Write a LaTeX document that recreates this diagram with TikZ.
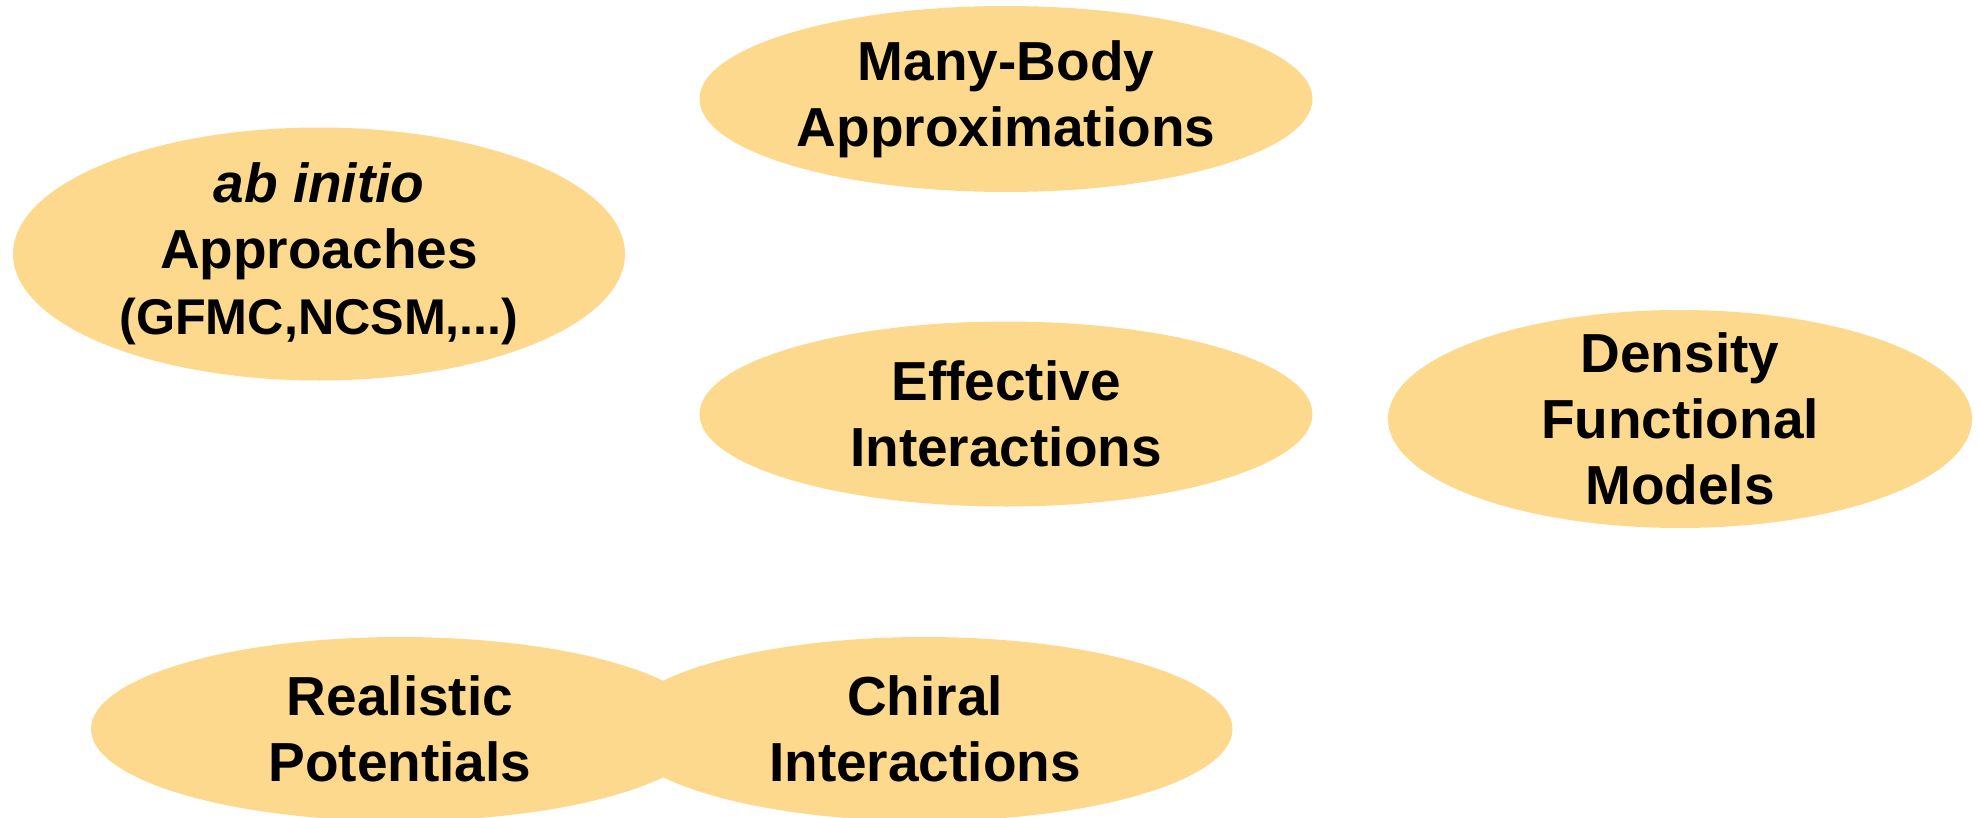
\documentclass[tikz,border=0pt]{standalone}
\usepackage{fontspec}
\setmainfont{Liberation Sans}
\definecolor{blobfill}{HTML}{FDD98E}

\begin{document}
\begin{tikzpicture}[x=0.02cm,y=-0.02cm]
    \tikzstyle{every node}+=[inner sep=0pt]
    \tikzstyle{blobtext}=[align=center, font=\bfseries\fontsize{31.3}{37.6}\selectfont]
    \useasboundingbox (0,0) rectangle (1979,818);
    \fill [blobfill] (1006,99) ellipse (306.5 and 93);
    \node [blobtext] (manybody) at (1006,99) {Many-Body\\Approximations};
    \fill [blobfill] (319,254) ellipse (306 and 126.5);
    \node [blobtext] (abinitio) at (319,254) {\textit{ab initio}\\Approaches\\{\fontsize{28.6}{37.6}\selectfont (GFMC,NCSM,...)}};
    \fill [blobfill] (1006,414) ellipse (306.5 and 92.5);
    \node [blobtext] (effective) at (1006,414) {Effective\\Interactions};
    \fill [blobfill] (1680,419) ellipse (292 and 109);
    \node [blobtext] (density) at (1680,419) {Density\\Functional\\Models};
    \fill [blobfill] (400,729) ellipse (309 and 92);
    \node [blobtext] (realistic) at (400,729) {Realistic\\Potentials};
    \fill [blobfill] (925,729) ellipse (307.5 and 92);
    \node [blobtext] (chiral) at (925,729) {Chiral\\Interactions};
\end{tikzpicture}
\end{document}
